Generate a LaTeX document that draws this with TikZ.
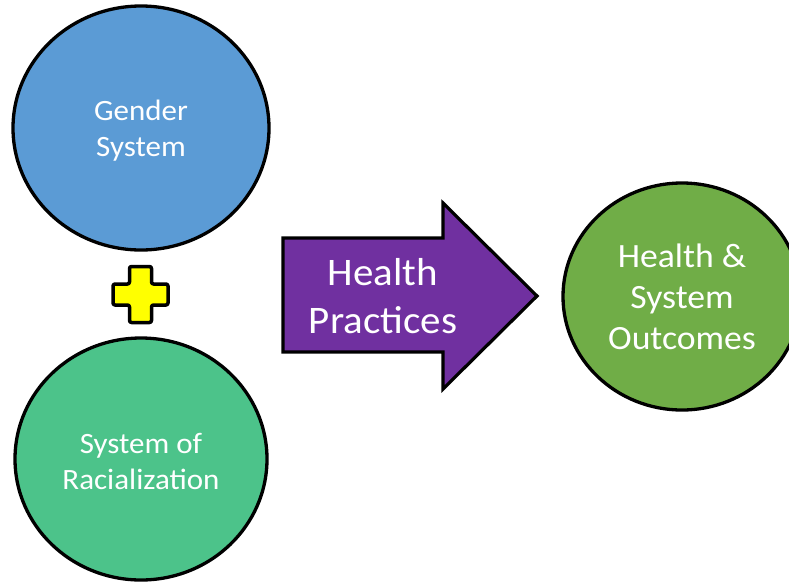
\documentclass[tikz,border=0pt]{standalone}
\usepackage{fontspec}
\setmainfont{Carlito}
\newfontfamily\labelfont[FakeStretch=1.05]{Carlito}
\usetikzlibrary{shapes.geometric}
\definecolor{genderblue}{HTML}{5B9BD5}
\definecolor{racegreen}{HTML}{4CC38A}
\definecolor{outcomegreen}{HTML}{70AD47}
\definecolor{practicepurple}{HTML}{7030A0}
\definecolor{plusyellow}{HTML}{FFFF00}
\tikzset{
  systembubble/.style={ellipse, draw=black, line width=3.3pt, inner sep=0pt,
    text=white, align=center,
    font=\labelfont\fontsize{29.5}{36}\selectfont},
  bubbletext/.style={text=white, align=center,
    font=\labelfont\fontsize{29.5}{36}\selectfont},
  arrowtext/.style={text=white, align=center,
    font=\labelfont\fontsize{39}{48}\selectfont},
  outcometext/.style={text=white, align=center,
    font=\labelfont\fontsize{34}{41}\selectfont},
}
\begin{document}
\begin{tikzpicture}[x=1pt,y=-1pt]
\useasboundingbox (0,0) rectangle (789,582);

% the two social systems
\node[systembubble, fill=genderblue, minimum width=256pt, minimum height=244pt]
  (gender) at (141,128) {};
\node[bubbletext] (gendertext) at (141,131) {Gender\\System};
\node[systembubble, fill=racegreen, minimum width=252pt, minimum height=242pt]
  (race) at (141,459) {};
\node[bubbletext] (racetext) at (141,461) {System of\\Racialization};

% plus sign joining them
\coordinate (plus) at (140.5,294.5);
\draw[fill=plusyellow, line width=3.5pt, rounded corners=2pt, line join=round]
  ([shift={(-11,-28)}]plus) -- ([shift={(11,-28)}]plus) -- ([shift={(11,-10.5)}]plus)
  -- ([shift={(27.5,-10.5)}]plus) -- ([shift={(27.5,10.5)}]plus) -- ([shift={(11,10.5)}]plus)
  -- ([shift={(11,28)}]plus) -- ([shift={(-11,28)}]plus) -- ([shift={(-11,10.5)}]plus)
  -- ([shift={(-27.5,10.5)}]plus) -- ([shift={(-27.5,-10.5)}]plus) -- ([shift={(-11,-10.5)}]plus)
  -- cycle;

% block arrow for health practices
\draw[fill=practicepurple, line width=3.2pt, line join=miter]
  (283,238) -- (443,238) -- (443,203) -- (537,296) -- (443,389) -- (443,352)
  -- (283,352) -- cycle;
\node[arrowtext] (practices) at (383,296) {Health\\Practices};

% outcomes
\node[systembubble, fill=outcomegreen, minimum width=238pt, minimum height=227pt]
  (outcomes) at (682,296.5) {};
\node[outcometext] (outcomestext) at (682,296.5) {Health \&\\System\\Outcomes};
\end{tikzpicture}
\end{document}
